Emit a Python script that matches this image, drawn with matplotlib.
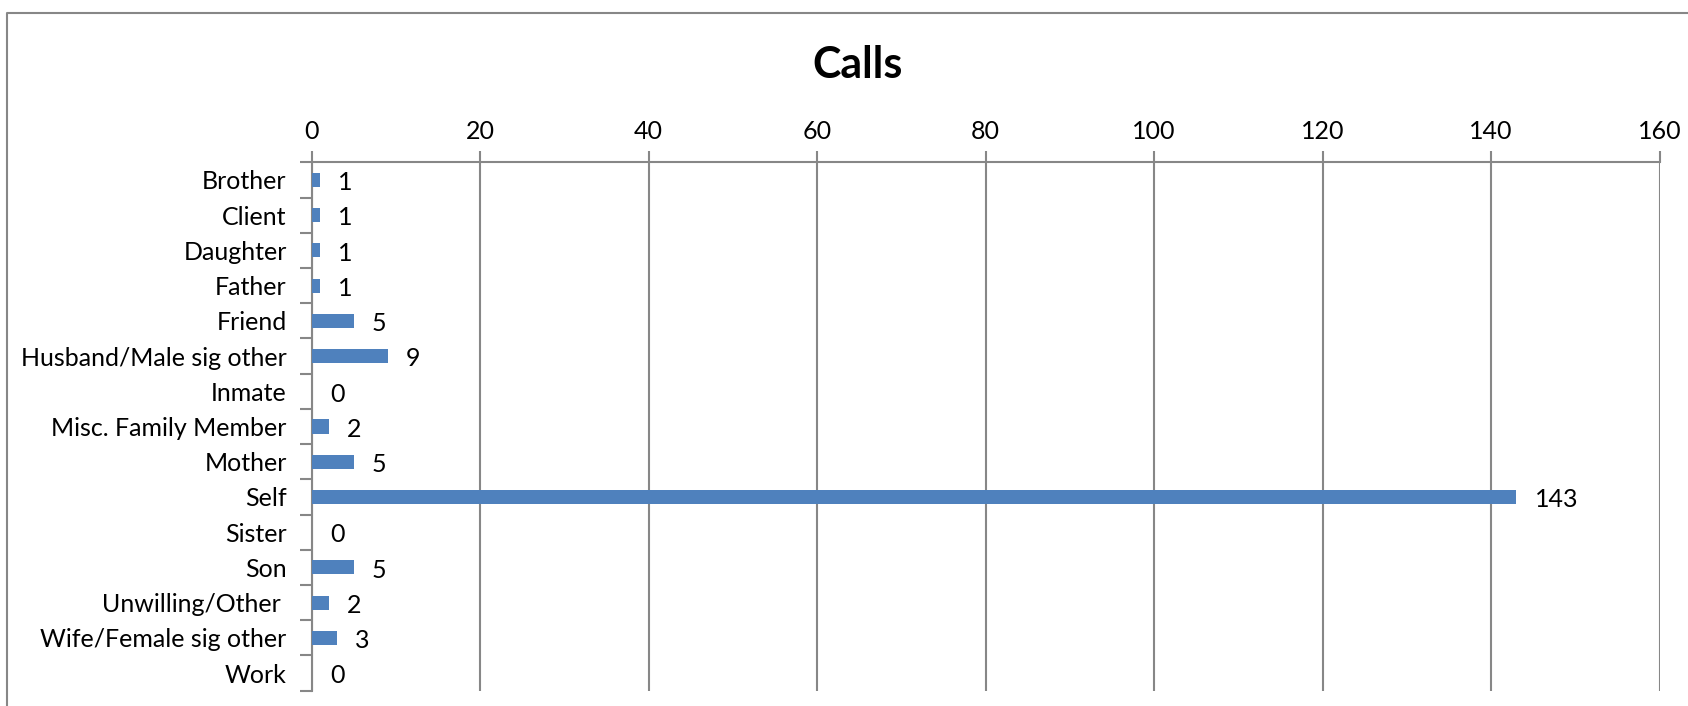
import matplotlib.pyplot as plt
from matplotlib.lines import Line2D
import numpy as np

categories = ['Brother', 'Client', 'Daughter', 'Father', 'Friend',
              'Husband/Male sig other', 'Inmate', 'Misc. Family Member',
              'Mother', 'Self', 'Sister', 'Son', 'Unwilling/Other ',
              'Wife/Female sig other', 'Work']
calls = [1, 1, 1, 1, 5, 9, 0, 2, 5, 143, 0, 5, 2, 3, 0]
x_ticks = [0, 20, 40, 60, 80, 100, 120, 140, 160]

plt.rcParams['font.family'] = ['Lato', 'DejaVu Sans']

W, H = 1688, 706
fig = plt.figure(figsize=(W / 100, H / 100), dpi=100)
ax = fig.add_axes([311.7 / W, 15.3 / H, 1348 / W, 528.4 / H])

grey = '#878787'
pos = np.arange(len(categories))
bars = ax.barh(pos, calls, height=0.4, color='#4F81BD', zorder=3)
labels = ax.bar_label(bars, labels=[str(v) for v in calls], padding=13,
                      fontsize=18)
for t in labels:
    t.xyann = (13, -2)

ax.set_xlim(0, 160)
ax.set_ylim(len(categories) - 0.5, -0.5)
ax.set_xticks(x_ticks)
ax.xaxis.tick_top()
ax.tick_params(axis='x', direction='out', length=8, width=1.5, color=grey,
               labelsize=18, pad=6)
ax.set_yticks(pos)
ax.set_yticklabels(categories)
ax.tick_params(axis='y', which='major', length=0, labelsize=18, pad=18)
ax.set_yticks(np.arange(len(categories) + 1) - 0.5, minor=True)
ax.tick_params(axis='y', which='minor', direction='out', length=9, width=1.5,
               color=grey)
ax.grid(axis='x', color=grey, linewidth=1.5, zorder=0)

for s in ['right', 'bottom']:
    ax.spines[s].set_visible(False)
for s in ['left', 'top']:
    ax.spines[s].set_color(grey)
    ax.spines[s].set_linewidth(1.5)

fig.text(858 / W, 1 - 78 / H, 'Calls', ha='center', va='baseline',
         fontsize=31, fontweight='bold')

# outer chart frame (only top and left edges fall inside the picture)
fig.add_artist(Line2D([7 / W, 7 / W, 1.0], [0, 1 - 13 / H, 1 - 13 / H],
                      transform=fig.transFigure, color=grey, linewidth=1.5))

fig.savefig('out.png', dpi=100)
